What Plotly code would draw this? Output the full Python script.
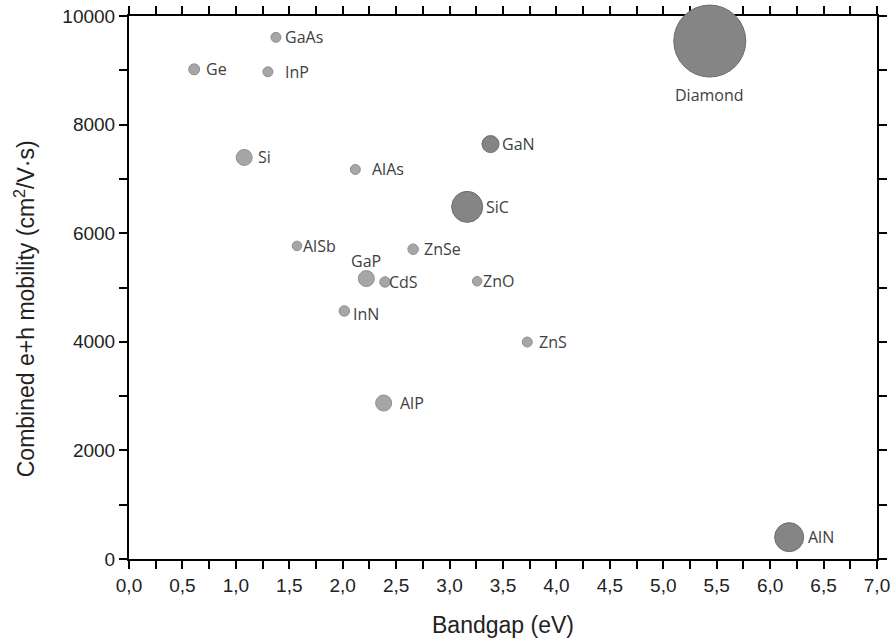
import plotly.graph_objects as go

materials = ["GaAs", "Ge", "InP", "Diamond", "GaN", "Si", "AlAs", "SiC", "AlSb",
             "ZnSe", "GaP", "CdS", "ZnO", "InN", "ZnS", "AlP", "AlN"]
bandgap = [1.375, 0.61, 1.30, 5.435, 3.383, 1.078, 2.118, 3.165, 1.572,
           2.659, 2.221, 2.396, 3.258, 2.015, 3.727, 2.383, 6.178]
mobility = [9607, 9018, 8973, 9539, 7641, 7395, 7174, 6485, 5766,
            5705, 5165, 5102, 5115, 4568, 3996, 2872, 402]
bubble_diam = [10, 11, 10, 72, 17, 16, 10, 31, 9.5,
               10.5, 16, 10.5, 9.5, 10.5, 10, 16, 29]
wide_gap_group = [False, False, False, True, True, False, False, True, False,
                  False, False, False, False, False, False, False, True]

label_dx = [7, 10, 15, 0, 9, 12, 15, 17, 4, 9, 0, 2, 4, 7, 10, 14, 17]
label_dy = [0, 0, 0, -54, 0, 0, 0, 0, 0, 0, 18, 0, 0, -3, 0, 0, 0]
label_anchor = ["left"] * 17
label_anchor[3] = "center"
label_anchor[10] = "center"

# tick positions (every minor step) and labels (blank at minor positions)
x_tickvals = [0.0, 0.25, 0.5, 0.75, 1.0, 1.25, 1.5, 1.75, 2.0, 2.25, 2.5, 2.75, 3.0, 3.25, 3.5,
              3.75, 4.0, 4.25, 4.5, 4.75, 5.0, 5.25, 5.5, 5.75, 6.0, 6.25, 6.5, 6.75, 7.0]
x_ticktext = ["0,0", "", "0,5", "", "1,0", "", "1,5", "", "2,0", "", "2,5", "", "3,0", "", "3,5",
              "", "4,0", "", "4,5", "", "5,0", "", "5,5", "", "6,0", "", "6,5", "", "7,0"]
y_tickvals = [0, 1000, 2000, 3000, 4000, 5000, 6000, 7000, 8000, 9000, 10000]
y_ticktext = ["0", "", "2000", "", "4000", "", "6000", "", "8000", "", "10000"]

light_fill, light_line = "#a6a6a6", "#8f8f8f"
dark_fill, dark_line = "#858585", "#6b6b6b"

fills = [dark_fill if g else light_fill for g in wide_gap_group]
lines = [dark_line if g else light_line for g in wide_gap_group]

fig = go.Figure()
fig.add_trace(go.Scatter(
    x=bandgap, y=mobility, mode="markers",
    marker=dict(size=bubble_diam, color=fills, line=dict(color=lines, width=1), opacity=1),
    cliponaxis=False, showlegend=False, hoverinfo="text", text=materials,
))

for m, xv, yv, dx, dy, anc in zip(materials, bandgap, mobility, label_dx, label_dy, label_anchor):
    fig.add_annotation(x=xv, y=yv, text=m, showarrow=False,
                       xanchor=anc, yanchor="middle", xshift=dx, yshift=dy,
                       font=dict(family="Open Sans, Noto Sans, sans-serif", size=16, color="#404040"))

title_font = dict(family="Liberation Sans, Arial, sans-serif", size=23, color="#222222")
fig.add_annotation(xref="paper", yref="paper", x=-0.139, y=0.46,
                   text="Combined e+h mobility (cm<sup>2</sup>/V·s)", textangle=-90,
                   showarrow=False, xanchor="center", yanchor="middle", font=title_font)
fig.add_annotation(xref="paper", yref="paper", x=0.5, y=-0.122,
                   text="Bandgap (eV)", showarrow=False, xanchor="center", yanchor="middle",
                   font=title_font)

tickfont = dict(family="Liberation Sans, Arial, sans-serif", size=19, color="#222222")
common = dict(showgrid=False, zeroline=False, linecolor="black", linewidth=2, showline=True,
              mirror="ticks", ticks="outside", ticklen=8, tickcolor="black", tickwidth=2,
              tickmode="array", layer="below traces", tickfont=tickfont)

fig.update_layout(
    width=894, height=643,
    margin=dict(l=129, r=17, t=16, b=84, autoexpand=False),
    paper_bgcolor="white", plot_bgcolor="white",
    xaxis=dict(range=[0, 7], tickvals=x_tickvals, ticktext=x_ticktext, **common),
    yaxis=dict(range=[0, 10000], tickvals=y_tickvals, ticktext=y_ticktext, **common),
)

fig.write_html("out.html")
